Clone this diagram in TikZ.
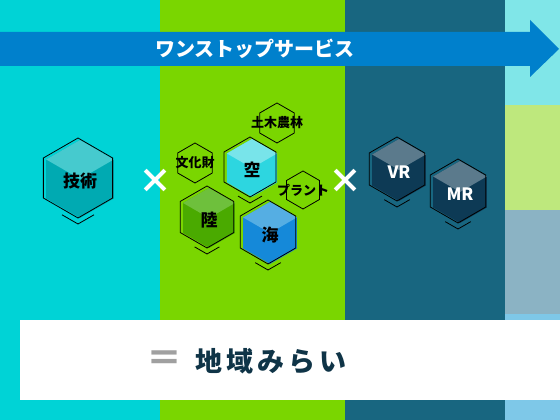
\documentclass[tikz,border=0pt]{standalone}
\usepackage{fontspec}
\setmainfont{Noto Sans CJK JP}
\usetikzlibrary{calc}
\definecolor{colcyan}{RGB}{0,211,214}
\definecolor{colgreen}{RGB}{122,214,0}
\definecolor{colteal}{RGB}{24,102,128}
\definecolor{stripcyan}{RGB}{128,230,232}
\definecolor{stripgreen}{RGB}{190,232,125}
\definecolor{stripgray}{RGB}{139,179,196}
\definecolor{stripblue}{RGB}{126,200,232}
\definecolor{arrowblue}{RGB}{0,128,204}
\definecolor{navytext}{RGB}{15,52,71}
\definecolor{eqgray}{RGB}{160,160,160}
\definecolor{tecside}{RGB}{0,170,178}
\definecolor{tectop}{RGB}{70,202,206}
\definecolor{skyside}{RGB}{45,214,224}
\definecolor{skytop}{RGB}{120,228,234}
\definecolor{landside}{RGB}{74,170,0}
\definecolor{landtop}{RGB}{110,192,60}
\definecolor{seaside}{RGB}{21,137,217}
\definecolor{seatop}{RGB}{85,174,227}
\definecolor{xrside}{RGB}{13,58,85}
\definecolor{xrtop}{RGB}{91,122,140}
\tikzset{
x=1pt, y=1pt, % one unit = one pixel of the 560x420 picture
hexline/.style={draw=black, line width=0.8pt, line join=miter}, % thin outline of every hexagon
cubetext/.style={font=\fontsize{17}{17}\selectfont\bfseries, inner sep=0pt},
tagtext/.style={font=\fontsize{13}{13}\selectfont\bfseries, inner sep=0pt},
crossmark/.style={text=white, font=\fontsize{34}{34}\selectfont\bfseries, inner sep=0pt},
}
% cube: name, x, y, radius, side colour, top colour, label, text colour
\newcommand{\cube}[8]{%
  \begin{scope}[shift={(#2,#3)}]
    \fill[#5] (2,-1) ++(90:{#4-1}) -- ++(-30:{#4-1}) -- ++(-90:{#4-1}) -- ++(210:{#4-1}) -- ++(150:{#4-1}) -- ++(90:{#4-1}) -- cycle;
    \fill[#6] (2,-1) ++(90:{#4-1}) -- ++(-30:{#4-1}) -- ++(210:{#4-1}) -- ++(150:{#4-1}) -- cycle;
    \draw[hexline] (90:#4) -- (30:#4) -- (-30:#4) -- (-90:#4) -- (210:#4) -- (150:#4) -- cycle;
    \draw[hexline] ({-0.4*#4},{-0.77*#4-6}) -- (0,{-#4-6}) -- ({0.4*#4},{-0.77*#4-6});
    \node[cubetext, text=#8] (#1) at (2,-3) {#7};
  \end{scope}}
% outline-only hexagon with a small label
\newcommand{\tag}[5]{%
  \begin{scope}[shift={(#2,#3)}]
    \draw[hexline] (90:#4) -- (30:#4) -- (-30:#4) -- (-90:#4) -- (210:#4) -- (150:#4) -- cycle;
    \node[tagtext] (#1) at (0,0) {#5};
  \end{scope}}

\begin{document}
\begin{tikzpicture}
  \useasboundingbox (0,0) rectangle (560,420);
  % background columns
  \fill[colcyan] (0,0) rectangle (160,420);
  \fill[colgreen] (160,0) rectangle (345,420);
  \fill[colteal] (345,0) rectangle (505,420);
  \fill[stripcyan] (505,315) rectangle (560,420);
  \fill[stripgreen] (505,210) rectangle (560,315);
  \fill[stripgray] (505,106) rectangle (560,210);
  \fill[stripblue] (505,0) rectangle (560,106);

  % one-stop arrow
  \fill[arrowblue] (0,354) -- (530,354) -- (530,343) -- (559,371) -- (530,400) -- (530,388) -- (0,388) -- cycle;
  \node[text=white, font=\fontsize{20}{20}\selectfont\bfseries, inner sep=0pt] (service) at (255,371) {ワンストップサービス};

  % technique
  \cube{tech}{78}{242}{40}{tecside}{tectop}{技術}{black}
  \node[crossmark] (times1) at (155,239) {×};

  % fields
  \tag{doboku}{277}{297}{20}{土木農林}
  \tag{bunka}{195}{257}{20}{文化財}
  \tag{plant}{303}{230}{19}{プラント}
  \cube{sky}{250}{253}{30}{skyside}{skytop}{空}{black}
  \cube{land}{207}{203}{31}{landside}{landtop}{陸}{black}
  \cube{sea}{268}{188}{32}{seaside}{seatop}{海}{black}
  \node[crossmark] (times2) at (345,239) {×};

  % xr
  \cube{vr}{397}{251}{32}{xrside}{xrtop}{VR}{white}
  \cube{mr}{458}{229}{32}{xrside}{xrtop}{MR}{white}

  % result
  \fill[white] (20,20) rectangle (560,100);
  \node[text=eqgray, font=\fontsize{36}{36}\selectfont\bfseries, inner sep=0pt] (equals) at (164,59) {＝};
  \node[text=navytext, font=\fontsize{27}{27}\selectfont\bfseries\addfontfeature{LetterSpace=15}, inner sep=0pt] (mirai) at (271,59) {地域みらい};
\end{tikzpicture}
\end{document}
